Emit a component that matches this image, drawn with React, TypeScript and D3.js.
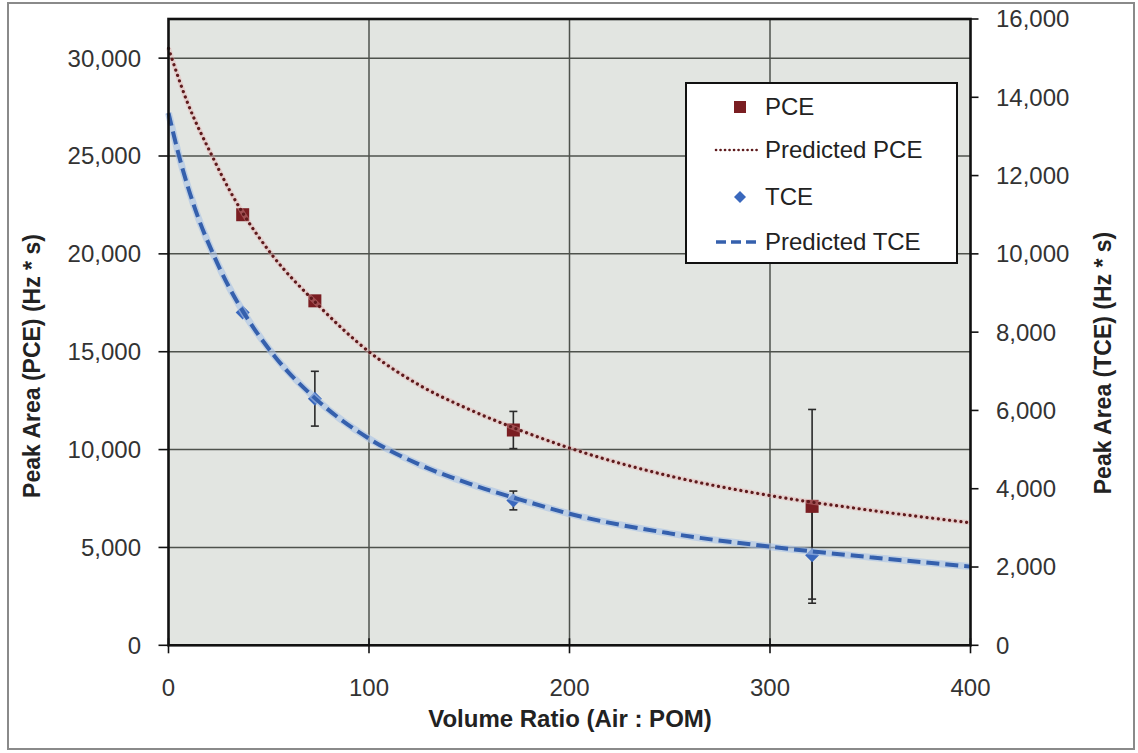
import React from "react";
import * as d3 from "d3";

// ---- data ----
const xTicks = [0, 100, 200, 300, 400];
const leftTicks = [0, 5000, 10000, 15000, 20000, 25000, 30000];
const rightTicks = [0, 2000, 4000, 6000, 8000, 10000, 12000, 14000, 16000];

const ratio = [37, 73, 172, 321];
const pceMeasured = [22000, 17600, 11000, 7100];
const pceError = [0, 0, 950, 4950];
const tceMeasured = [8500, 6300, 3700, 2300];
const tceError = [0, 700, 240, 1120];

const predPceX = [0, 9, 22, 31, 37, 52, 73, 100, 125, 150, 175, 200, 250, 300, 350, 400];
const predPceY = [30500, 27850, 24950, 23150, 22100, 19900, 17550, 15000, 13300, 12050, 11000, 10080, 8650, 7650, 6900, 6260];
const predTceX = [0, 5, 15, 22, 30, 38, 53, 74, 100, 125, 150, 175, 200, 250, 300, 350, 400];
const predTceY = [13600, 12550, 10900, 10030, 9170, 8460, 7380, 6270, 5280, 4620, 4130, 3730, 3360, 2860, 2520, 2250, 2010];

const W = 1138;
const H = 753;
const L = 168.5, R = 970.5, T = 19, B = 645.3;

const PCE_COLOR = "#7a1e22";
const TCE_COLOR = "#3a68bd";
const FONT = "'Liberation Sans', Arial, sans-serif";

export default function App() {
  const x = d3.scaleLinear().domain([0, 400]).range([L, R]);
  const yL = d3.scaleLinear().domain([0, 32000]).range([B, T]);
  const yR = d3.scaleLinear().domain([0, 16000]).range([B, T]);
  const fmt = d3.format(",");

  const pceLine = d3
    .line<number>()
    .x((_, i) => x(predPceX[i]))
    .y((d) => yL(d))
    .curve(d3.curveMonotoneX)(predPceY) as string;
  const tceLine = d3
    .line<number>()
    .x((_, i) => x(predTceX[i]))
    .y((d) => yR(d))
    .curve(d3.curveMonotoneX)(predTceY) as string;

  const errBar = (cx: number, yTop: number, yBot: number, key: string) => (
    <g key={key} stroke="#2a2a2a" strokeWidth={1.6}>
      <line x1={cx} x2={cx} y1={yTop} y2={yBot} />
      <line x1={cx - 4} x2={cx + 4} y1={yTop} y2={yTop} />
      <line x1={cx - 4} x2={cx + 4} y1={yBot} y2={yBot} />
    </g>
  );

  return (
    <div style={{ position: "absolute", left: 0, top: 0 }}>
      <svg width={W} height={H} style={{ display: "block", background: "#fff" }} fontFamily={FONT}>
        <rect x={8} y={3} width={1126} height={746} fill="#fff" stroke="#8a8a8a" strokeWidth={2} />
        {/* plot background */}
        <rect x={L} y={T} width={R - L} height={B - T} fill="#e2e5e1" />
        {/* gridlines */}
        {leftTicks.filter((t) => t > 0).map((t) => (
          <line key={"gh" + t} x1={L} x2={R} y1={yL(t)} y2={yL(t)} stroke="#4e524c" strokeWidth={1.5} />
        ))}
        {xTicks.filter((t) => t > 0 && t < 400).map((t) => (
          <line key={"gv" + t} x1={x(t)} x2={x(t)} y1={T} y2={B} stroke="#4e524c" strokeWidth={1.5} />
        ))}
        {/* error bars */}
        {ratio.map((r, i) =>
          pceError[i] > 0 ? errBar(x(r), yL(pceMeasured[i] + pceError[i]), yL(pceMeasured[i] - pceError[i]), "pe" + i) : null
        )}
        {ratio.map((r, i) =>
          tceError[i] > 0 ? errBar(x(r), yR(tceMeasured[i] + tceError[i]), yR(tceMeasured[i] - tceError[i]), "te" + i) : null
        )}
        {/* PCE markers */}
        {ratio.map((r, i) => (
          <rect key={"pm" + i} x={x(r) - 6.5} y={yL(pceMeasured[i]) - 6.5} width={13} height={13} fill={PCE_COLOR} />
        ))}
        {/* predicted PCE */}
        <path d={pceLine} fill="none" stroke="#e8a8a8" strokeOpacity={0.35} strokeWidth={5} />
        <path d={pceLine} fill="none" stroke="#5e1a1c" strokeWidth={3.2} strokeDasharray="0.1 5.6" strokeLinecap="round" />
        {/* TCE markers */}
        {ratio.map((r, i) => {
          const cx = x(r), cy = yR(tceMeasured[i]);
          return (
            <path key={"tm" + i} d={`M${cx},${cy - 7}L${cx + 7},${cy}L${cx},${cy + 7}L${cx - 7},${cy}Z`} fill={TCE_COLOR} />
          );
        })}
        {/* predicted TCE */}
        <path d={tceLine} fill="none" stroke="#a9c2e6" strokeOpacity={0.6} strokeWidth={7} />
        <path d={tceLine} fill="none" stroke="#3560ad" strokeWidth={4} strokeDasharray="13 6" />
        {/* frame */}
        <rect x={L} y={T} width={R - L} height={B - T} fill="none" stroke="#111" strokeWidth={2.6} />
        {/* left axis ticks & labels */}
        {leftTicks.map((t) => (
          <g key={"lt" + t}>
            <line x1={L - 10} x2={L} y1={yL(t)} y2={yL(t)} stroke="#111" strokeWidth={1.6} />
            <text x={141} y={yL(t)} dy="0.35em" textAnchor="end" fontSize={24} fill="#333">
              {fmt(t)}
            </text>
          </g>
        ))}
        {/* right axis ticks & labels */}
        {rightTicks.map((t) => (
          <g key={"rt" + t}>
            <line x1={R} x2={R + 8} y1={yR(t)} y2={yR(t)} stroke="#111" strokeWidth={1.6} />
            <text x={996} y={yR(t)} dy="0.35em" textAnchor="start" fontSize={24} fill="#333">
              {fmt(t)}
            </text>
          </g>
        ))}
        {/* x axis ticks & labels */}
        {xTicks.map((t) => (
          <g key={"xt" + t}>
            <line x1={x(t)} x2={x(t)} y1={B - 7} y2={B + 8} stroke="#111" strokeWidth={1.6} />
            <text x={x(t)} y={696} textAnchor="middle" fontSize={24} fill="#333">
              {t}
            </text>
          </g>
        ))}
        {/* axis titles */}
        <text x={570} y={727} textAnchor="middle" fontSize={24} fontWeight="bold" fill="#222">
          Volume Ratio (Air : POM)
        </text>
        <text transform="translate(40,366) rotate(-90)" textAnchor="middle" fontSize={23} fontWeight="bold" fill="#222">
          Peak Area (PCE) (Hz * s)
        </text>
        <text transform="translate(1111,363) rotate(-90)" textAnchor="middle" fontSize={23} fontWeight="bold" fill="#222">
          Peak Area (TCE) (Hz * s)
        </text>
        {/* legend */}
        <g>
          <rect x={686} y={83} width={271} height={180} fill="#fff" stroke="#111" strokeWidth={2} />
          <rect x={734} y={101} width={12} height={12} fill={PCE_COLOR} />
          <text x={765} y={107} dy="0.35em" fontSize={24} fill="#222">PCE</text>
          <line x1={716} x2={760} y1={150} y2={150} stroke="#5e1a1c" strokeWidth={2.6} strokeDasharray="0.1 4.4" strokeLinecap="round" />
          <text x={765} y={150} dy="0.35em" fontSize={24} fill="#222">Predicted PCE</text>
          <path d="M740,191L746,197L740,203L734,197Z" fill={TCE_COLOR} />
          <text x={765} y={197} dy="0.35em" fontSize={24} fill="#222">TCE</text>
          <line x1={716} x2={760} y1={242} y2={242} stroke="#3560ad" strokeWidth={3.5} strokeDasharray="10 5" />
          <text x={765} y={242} dy="0.35em" fontSize={24} fill="#222">Predicted TCE</text>
        </g>
      </svg>
    </div>
  );
}
